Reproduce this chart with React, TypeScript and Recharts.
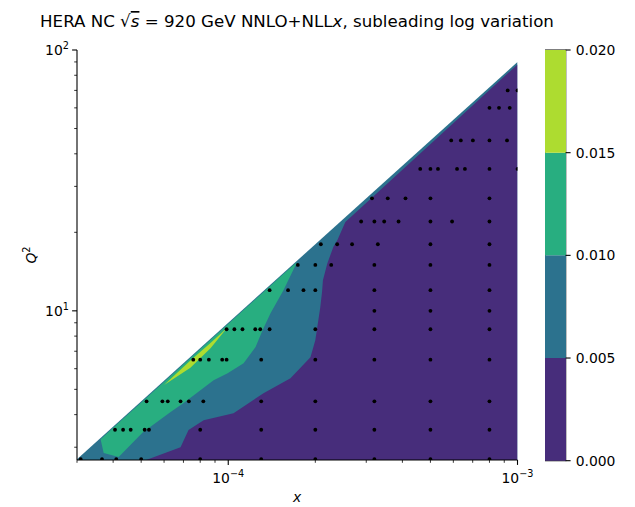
import React from "react";
import {
  ComposedChart,
  Area,
  Scatter,
  XAxis,
  YAxis,
  BarChart,
  Bar,
  ReferenceArea,
} from "recharts";

const FONT = "DejaVu Sans, sans-serif";

// contour levels and their viridis colours
const levels = [0, 0.005, 0.01, 0.015, 0.02];
const levelColors = ["#472d7b", "#2c728e", "#28ae80", "#addc30"];

// axis ranges and ticks
const xRange = [3e-5, 1e-3];
const q2Range = [2.68, 100];
const xTicks = [
  3e-5, 4e-5, 5e-5, 6e-5, 7e-5, 8e-5, 9e-5, 1e-4, 2e-4, 3e-4, 4e-4, 5e-4, 6e-4,
  7e-4, 8e-4, 9e-4, 1e-3,
];
const q2Ticks = [3, 4, 5, 6, 7, 8, 9, 10, 20, 30, 40, 50, 60, 70, 80, 90, 100];

// kinematic edge, top of the filled region
const edgeX = [3e-5, 1e-3];
const edgeQ2 = [2.7, 90];

// 0.005 contour = top of the lowest band
const lowBandX = [
  5.2e-5, 6.84e-5, 7.29e-5, 8.22e-5, 1.043e-4, 1.324e-4, 1.641e-4, 1.924e-4,
  2.0e-4, 2.08e-4, 2.11e-4, 2.125e-4, 2.2e-4, 2.31e-4, 2.385e-4, 2.54e-4, 1e-3,
];
const lowBandQ2 = [
  2.68, 3.0, 3.49, 3.81, 4.05, 4.83, 5.52, 6.64, 7.72, 10.3, 11.8, 13.1, 15.2,
  17.6, 18.7, 21.9, 88,
];

// 0.010 - 0.015 band
const midBandX = [
  3.62e-5, 3.71e-5, 4.18e-5, 5.06e-5, 6.32e-5, 7.01e-5, 8.9e-5, 9.95e-5, 1.13e-4,
  1.243e-4, 1.314e-4, 1.4e-4, 1.552e-4, 1.73e-4,
];
const midBandLo = [3.22, 2.85, 2.75, 3.42, 4.09, 4.43, 5.42, 5.77, 6.3, 7.26, 8.43, 9.8, 12.0, 15.4];
const midBandHi = [3.22, 3.3, 3.72, 4.5, 5.63, 6.24, 7.93, 8.86, 10.07, 11.08, 11.71, 12.47, 13.83, 15.4];

// 0.015 - 0.020 band
const topBandX = [6.0e-5, 7.4e-5, 8.7e-5, 9.9e-5];
const topBandLo = [5.2, 6.05, 7.2, 8.6];
const topBandHi = [5.2, 6.45, 7.55, 8.6];

// data points, one row of x values per Q2 bin
const pointQ2 = [2.7, 3.5, 4.5, 6.5, 8.5, 10, 12, 15, 18, 22, 27, 35, 45, 60, 70];
const pointX = [
  [3.09e-5, 3.66e-5, 4.1e-5, 5.0e-5, 8.0e-5, 1.3e-4, 2.0e-4, 3.2e-4, 5.0e-4, 8.0e-4],
  [4.06e-5, 4.33e-5, 4.6e-5, 5.14e-5, 5.32e-5, 8.0e-5, 1.3e-4, 2.0e-4, 3.2e-4, 5.0e-4, 8.0e-4],
  [5.22e-5, 5.92e-5, 6.18e-5, 6.84e-5, 7.31e-5, 8.2e-5, 1.3e-4, 2.0e-4, 3.2e-4, 5.0e-4, 8.0e-4],
  [7.57e-5, 8.0e-5, 8.57e-5, 9.53e-5, 9.87e-5, 1.3e-4, 2.0e-4, 3.2e-4, 5.0e-4, 8.0e-4],
  [9.87e-5, 1.05e-4, 1.12e-4, 1.24e-4, 1.29e-4, 1.39e-4, 2.0e-4, 3.2e-4, 5.0e-4, 8.0e-4],
  [3.2e-4, 5.0e-4, 8.0e-4],
  [1.39e-4, 1.61e-4, 1.82e-4, 2.0e-4, 3.2e-4, 5.0e-4, 8.0e-4],
  [1.74e-4, 2.0e-4, 2.27e-4, 3.2e-4, 5.0e-4, 8.0e-4],
  [2.09e-4, 2.38e-4, 2.68e-4, 3.29e-4, 5.0e-4, 8.0e-4],
  [2.88e-4, 3.2e-4, 3.46e-4, 3.88e-4, 5.0e-4, 5.94e-4, 8.0e-4],
  [3.14e-4, 3.56e-4, 4.1e-4, 5.0e-4, 8.0e-4],
  [4.61e-4, 5.0e-4, 5.31e-4, 6.18e-4, 6.58e-4, 8.0e-4, 1.0e-3],
  [5.9e-4, 6.37e-4, 7.01e-4, 8.0e-4, 9.2e-4],
  [8.0e-4, 8.63e-4, 9.4e-4],
  [9.25e-4, 1.0e-3],
];

const edgeData = edgeX.map((x, i) => ({ x, y: edgeQ2[i] }));
const lowBandData = lowBandX.map((x, i) => ({ x, y: lowBandQ2[i] }));
const midBandData = midBandX.map((x, i) => ({ x, v: [midBandLo[i], midBandHi[i]] }));
const topBandData = topBandX.map((x, i) => ({ x, v: [topBandLo[i], topBandHi[i]] }));
const pointData = pointQ2.flatMap((q, i) => pointX[i].map((x) => ({ x, y: q })));

const colorbarRow: Record<string, any> = { name: "cb" };
levelColors.forEach((_, i) => {
  colorbarRow["b" + i] = levels[i + 1] - levels[i];
});
const colorbarData = [colorbarRow];

const isDecade = (v: number) =>
  Math.abs(Math.log10(v) - Math.round(Math.log10(v))) < 1e-9;
const expText = (v: number) => {
  const e = Math.round(Math.log10(v));
  return e < 0 ? "\u2212" + -e : String(e);
};

const XTick = (props: any) => {
  const { x, y, payload } = props;
  const major = isDecade(payload.value);
  return (
    <g>
      <line
        x1={x}
        x2={x}
        y1={y}
        y2={y + (major ? 4.9 : 2.8)}
        stroke="#000"
        strokeWidth={major ? 1.1 : 0.8}
      />
      {major && (
        <text x={x} y={y + 23} textAnchor="middle" fontSize={13.9} fontFamily={FONT} fill="#000">
          10
          <tspan dy={-6} fontSize={9.7}>
            {expText(payload.value)}
          </tspan>
        </text>
      )}
    </g>
  );
};

const YTick = (props: any) => {
  const { x, y, payload } = props;
  const major = isDecade(payload.value);
  return (
    <g>
      <line
        x1={x}
        x2={x - (major ? 4.9 : 2.8)}
        y1={y}
        y2={y}
        stroke="#000"
        strokeWidth={major ? 1.1 : 0.8}
      />
      {major && (
        <text x={x - 20} y={y + 5.3} textAnchor="middle" fontSize={13.9} fontFamily={FONT} fill="#000">
          10
          <tspan dy={-6} fontSize={9.7}>
            {expText(payload.value)}
          </tspan>
        </text>
      )}
    </g>
  );
};

const CbTick = (props: any) => {
  const { x, y, payload } = props;
  return (
    <g>
      <line x1={x} x2={x + 4.9} y1={y} y2={y} stroke="#000" strokeWidth={1.1} />
      <text x={x + 10} y={y + 5} fontSize={13.9} fontFamily={FONT} fill="#000">
        {payload.value.toFixed(3)}
      </text>
    </g>
  );
};

const Dot = (props: any) => <circle cx={props.cx} cy={props.cy} r={1.9} fill="#000" />;

export default function App() {
  return (
    <div style={{ position: "absolute", left: 0, top: 0, width: 635, height: 507, background: "#fff" }}>
      <div style={{ position: "absolute", left: 0, top: 0 }}>
        <ComposedChart width={545} height={507} margin={{ top: 50, right: 27.5, bottom: 0, left: 0 }}>
          <Area
            data={edgeData}
            dataKey="y"
            type="linear"
            baseValue="dataMin"
            fill={levelColors[1]}
            fillOpacity={1}
            stroke="none"
            dot={false}
            activeDot={false}
            isAnimationActive={false}
          />
          <Area
            data={midBandData}
            dataKey="v"
            type="linear"
            fill={levelColors[2]}
            fillOpacity={1}
            stroke="none"
            dot={false}
            activeDot={false}
            isAnimationActive={false}
          />
          <Area
            data={topBandData}
            dataKey="v"
            type="linear"
            fill={levelColors[3]}
            fillOpacity={1}
            stroke="none"
            dot={false}
            activeDot={false}
            isAnimationActive={false}
          />
          <Area
            data={lowBandData}
            dataKey="y"
            type="linear"
            baseValue="dataMin"
            fill={levelColors[0]}
            fillOpacity={1}
            stroke="none"
            dot={false}
            activeDot={false}
            isAnimationActive={false}
          />
          <Scatter data={pointData} shape={Dot} isAnimationActive={false} />
          <XAxis
            dataKey="x"
            type="number"
            scale="log"
            domain={xRange}
            allowDataOverflow
            ticks={xTicks}
            interval={0}
            height={47}
            tickSize={0}
            tickMargin={0}
            tickLine={false}
            tick={<XTick />}
            axisLine={{ stroke: "#000", strokeWidth: 1.1 }}
          />
          <YAxis
            dataKey="y"
            type="number"
            scale="log"
            domain={q2Range}
            allowDataOverflow
            ticks={q2Ticks}
            interval={0}
            width={77}
            tickSize={0}
            tickMargin={0}
            tickLine={false}
            tick={<YTick />}
            axisLine={{ stroke: "#000", strokeWidth: 1.1 }}
          />
          <XAxis
            xAxisId="top"
            orientation="top"
            type="number"
            scale="log"
            domain={xRange}
            allowDataOverflow
            height={0}
            tick={false}
            tickLine={false}
            axisLine={{ stroke: "#000", strokeWidth: 1.1 }}
          />
          <YAxis
            yAxisId="right"
            orientation="right"
            type="number"
            scale="log"
            domain={q2Range}
            allowDataOverflow
            width={0}
            tick={false}
            tickLine={false}
            axisLine={{ stroke: "#000", strokeWidth: 1.1 }}
          />
        </ComposedChart>
      </div>

      <div style={{ position: "absolute", left: 545, top: 0 }}>
        <BarChart
          width={90}
          height={507}
          data={colorbarData}
          barCategoryGap={0}
          barGap={0}
          margin={{ top: 50, right: 0, bottom: 46.3, left: 0 }}
        >
          <XAxis dataKey="name" type="category" hide />
          <YAxis
            orientation="right"
            type="number"
            domain={[levels[0], levels[levels.length - 1]]}
            ticks={levels}
            interval={0}
            width={69.3}
            tickSize={0}
            tickMargin={0}
            tickLine={false}
            axisLine={false}
            tick={<CbTick />}
          />
          {levelColors.map((c, i) => (
            <Bar key={c} dataKey={"b" + i} stackId="cb" fill={c} isAnimationActive={false} />
          ))}
          <ReferenceArea
            y1={levels[0]}
            y2={levels[levels.length - 1]}
            fill="none"
            stroke="#000"
            strokeWidth={1.1}
          />
        </BarChart>
      </div>

      <svg
        width={635}
        height={507}
        style={{ position: "absolute", left: 0, top: 0, pointerEvents: "none" }}
        fontFamily={FONT}
      >
        <text x={297} y={27} textAnchor="middle" fontSize={16.67} fill="#000">
          <tspan>HERA NC </tspan>
          <tspan>{"\u221A"}</tspan>
          <tspan fontStyle="italic" style={{ textDecoration: "overline" }}>
            s
          </tspan>
          <tspan> = 920 GeV NNLO+NLL</tspan>
          <tspan fontStyle="italic">x</tspan>
          <tspan>, subleading log variation</tspan>
        </text>
        <text x={297} y={502} textAnchor="middle" fontSize={13.9} fontStyle="italic" fill="#000">
          x
        </text>
        <text transform="translate(36,255) rotate(-90)" textAnchor="middle" fontSize={13.9} fill="#000">
          <tspan fontStyle="italic">Q</tspan>
          <tspan dy={-6} fontSize={9.7}>
            2
          </tspan>
        </text>
      </svg>
    </div>
  );
}
